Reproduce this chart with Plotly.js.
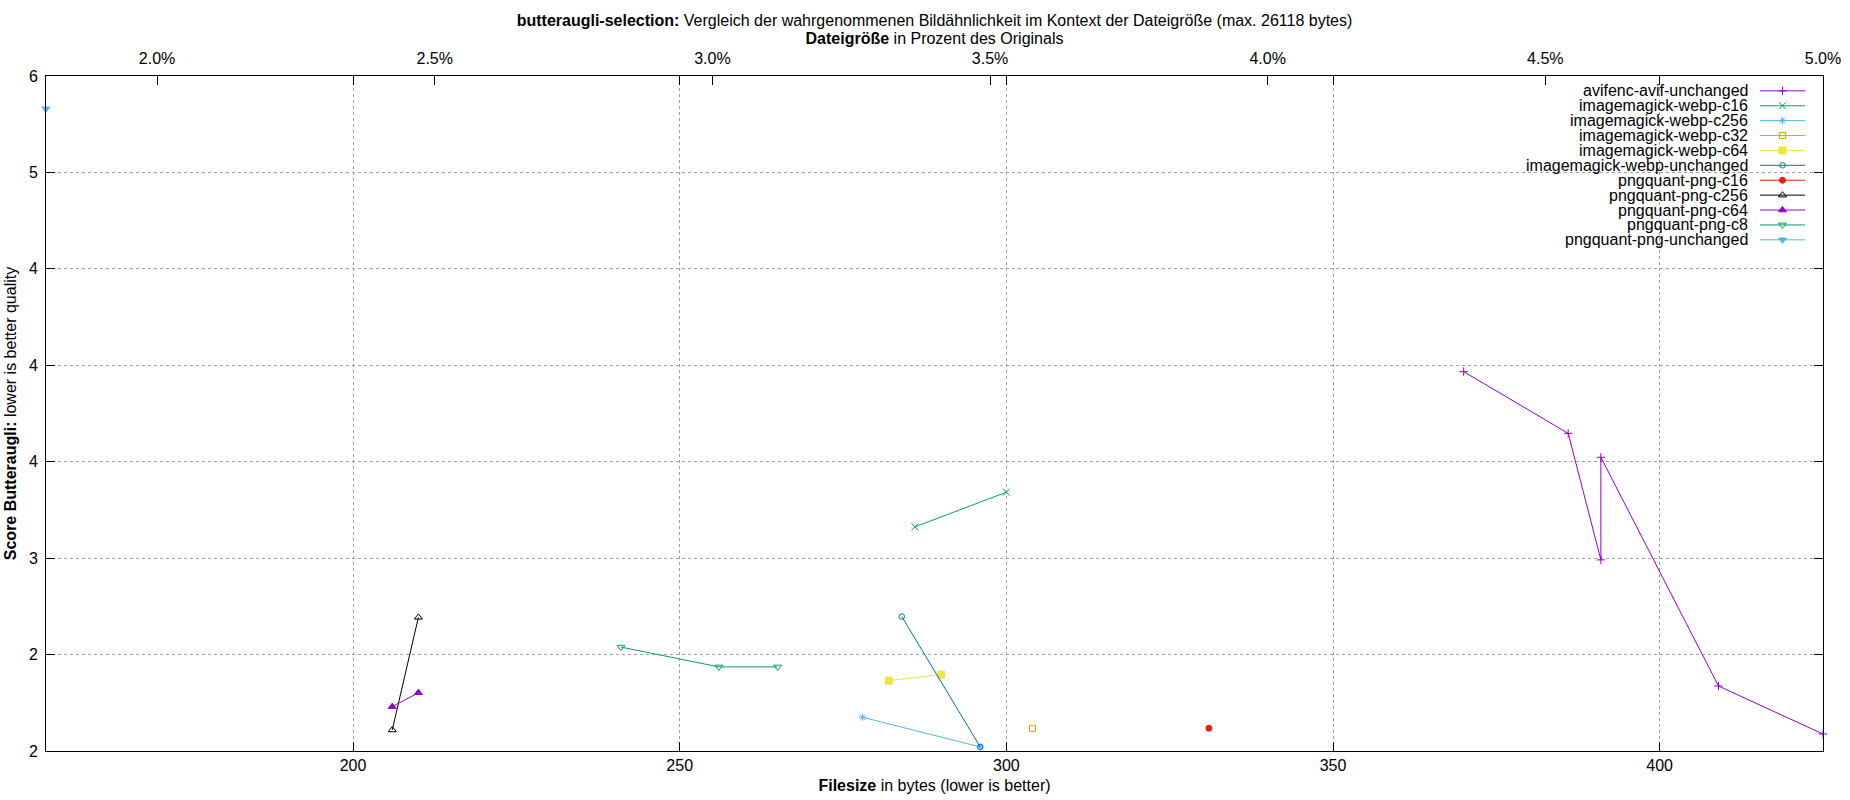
<!DOCTYPE html>
<html>
<head>
<meta charset="utf-8">
<title>butteraugli-selection</title>
<script src="https://cdn.plot.ly/plotly-3.0.1.min.js"></script>
<style>
    html, body { margin: 0; padding: 0; background: #fff; }
    #chart { width: 1850px; height: 800px; }
</style>
</head>
<body>
<div id="chart"></div>
<script>
const avifUnchangedX = [370, 386, 391, 391, 409, 425];
const avifUnchangedY = [3.967, 3.647, 2.991, 3.523, 2.337, 2.088];
const webpC16X = [286, 300];
const webpC16Y = [3.162, 3.342];
const webpC256X = [278, 296];
const webpC256Y = [2.175, 2.021];
const webpC32X = [304];
const webpC32Y = [2.118];
const webpC64X = [282, 290];
const webpC64Y = [2.365, 2.396];
const webpUnchangedX = [284, 296];
const webpUnchangedY = [2.697, 2.021];
const pngC16X = [331];
const pngC16Y = [2.118];
const pngC256X = [210, 206];
const pngC256Y = [2.693, 2.109];
const pngC64X = [206, 210];
const pngC64Y = [2.230, 2.302];
const pngC8X = [241, 256, 265];
const pngC8Y = [2.539, 2.436, 2.436];
const pngUnchangedX = [153];
const pngUnchangedY = [5.33];

const seriesNames = [
    'avifenc-avif-unchanged', 'imagemagick-webp-c16', 'imagemagick-webp-c256',
    'imagemagick-webp-c32', 'imagemagick-webp-c64', 'imagemagick-webp-unchanged',
    'pngquant-png-c16', 'pngquant-png-c256', 'pngquant-png-c64',
    'pngquant-png-c8', 'pngquant-png-unchanged'
];
const seriesX = [avifUnchangedX, webpC16X, webpC256X, webpC32X, webpC64X, webpUnchangedX,
    pngC16X, pngC256X, pngC64X, pngC8X, pngUnchangedX];
const seriesY = [avifUnchangedY, webpC16Y, webpC256Y, webpC32Y, webpC64Y, webpUnchangedY,
    pngC16Y, pngC256Y, pngC64Y, pngC8Y, pngUnchangedY];

// axis ticks
const xTickVals = [200, 250, 300, 350, 400];
const x2TickVals = [2.0, 2.5, 3.0, 3.5, 4.0, 4.5, 5.0];
const x2TickText = ['2.0%', '2.5%', '3.0%', '3.5%', '4.0%', '4.5%', '5.0%'];
const yTickVals = [2.0, 2.5, 3.0, 3.5, 4.0, 4.5, 5.0, 5.5];
const yTickText = ['2', '2', '3', '4', '4', '4', '5', '6'];   // gnuplot "%.0f" labels
const xRange = [153, 425];
const yRange = [2.0, 5.5];
const percentBase = 8500;   // bytes that map to 100% on the top axis

// gnuplot default line colours / point types
const colors = ['#9400d3', '#009e73', '#56b4e9', '#e69f00', '#f0e442', '#0072b2',
    '#e51e10', '#000000', '#9400d3', '#009e73', '#56b4e9'];
const symbols = ['cross-thin-open', 'x-thin-open', 'asterisk-open', 'square-open', 'square',
    'circle-open', 'circle', 'triangle-up-open', 'triangle-up', 'triangle-down-open', 'triangle-down'];
const symbolSizes = [6, 7, 6, 6, 7, 5.5, 6, 7, 7, 7, 7];

const FONT = 'Liberation Sans, Arial, sans-serif';
const GRID = '#a0a0a0';

// key geometry, in fractions of the plot area
const keyTextRight = 0.9589;
const keyLine = [0.9645, 0.9899];
const keyTop = 0.978;
const keyStep = 0.02207;

function markerFor(i) {
    return {
        symbol: symbols[i],
        size: symbolSizes[i],
        color: colors[i],
        line: { color: colors[i], width: 1 }
    };
}

const traces = [];
const annotations = [];

seriesNames.forEach((name, i) => {
    traces.push({
        type: 'scatter',
        mode: 'lines+markers',
        x: seriesX[i],
        y: seriesY[i],
        name: name,
        line: { color: colors[i], width: 1 },
        marker: markerFor(i),
        cliponaxis: false,
        showlegend: false,
        hovertemplate: '%{x} bytes, %{y:.3f}<extra>' + name + '</extra>'
    });
});

// empty trace so the top percent axis gets drawn
traces.push({
    type: 'scatter',
    mode: 'none',
    x: xRange.map(v => v / percentBase * 100),
    y: yRange,
    xaxis: 'x2',
    showlegend: false,
    hoverinfo: 'skip'
});

// gnuplot style key: label right aligned, sample to its right
seriesNames.forEach((name, i) => {
    const ky = keyTop - i * keyStep;
    traces.push({
        type: 'scatter',
        mode: 'lines',
        x: keyLine,
        y: [ky, ky],
        xaxis: 'x3',
        yaxis: 'y3',
        line: { color: colors[i], width: 1 },
        showlegend: false,
        hoverinfo: 'skip'
    });
    traces.push({
        type: 'scatter',
        mode: 'markers',
        x: [(keyLine[0] + keyLine[1]) / 2],
        y: [ky],
        xaxis: 'x3',
        yaxis: 'y3',
        marker: markerFor(i),
        showlegend: false,
        hoverinfo: 'skip'
    });
    annotations.push({
        xref: 'x3', yref: 'y3',
        x: keyTextRight, y: ky,
        xanchor: 'right', yanchor: 'middle',
        text: name,
        showarrow: false,
        font: { family: FONT, size: 16, color: '#000' }
    });
});

const layout = {
    width: 1850,
    height: 800,
    font: { family: FONT, size: 16, color: '#000' },
    paper_bgcolor: '#fff',
    plot_bgcolor: '#fff',
    margin: { l: 46, r: 27, t: 76, b: 49 },
    showlegend: false,
    title: {
        text: '<b>butteraugli-selection:</b> Vergleich der wahrgenommenen Bildähnlichkeit im Kontext der Dateigröße (max. 26118 bytes)',
        font: { family: FONT, size: 16, color: '#000' },
        x: 0.5, xref: 'paper', xanchor: 'center',
        y: 0.975, yref: 'container', yanchor: 'middle'
    },
    xaxis: {
        range: xRange,
        tickvals: xTickVals,
        ticks: 'inside', ticklen: 9, tickcolor: '#000',
        showline: true, linecolor: '#000', linewidth: 1, mirror: 'ticks',
        showgrid: true, gridcolor: GRID, griddash: 'dot', gridwidth: 1,
        zeroline: false,
        tickfont: { family: FONT, size: 16 },
        title: { text: '<b>Filesize</b> in bytes (lower is better)', font: { family: FONT, size: 16 }, standoff: 6 }
    },
    xaxis2: {
        overlaying: 'x', side: 'top', anchor: 'y',
        range: xRange.map(v => v / percentBase * 100),
        tickvals: x2TickVals, ticktext: x2TickText,
        ticks: 'inside', ticklen: 9, tickcolor: '#000',
        showline: false, showgrid: false, zeroline: false,
        ticklabelstandoff: 8,
        tickfont: { family: FONT, size: 16 },
        title: { text: '<b>Dateigröße</b> in Prozent des Originals', font: { family: FONT, size: 16 }, standoff: 1 }
    },
    yaxis: {
        range: yRange,
        tickvals: yTickVals, ticktext: yTickText,
        ticks: 'inside', ticklen: 9, tickcolor: '#000',
        showline: true, linecolor: '#000', linewidth: 1, mirror: 'ticks',
        showgrid: true, gridcolor: GRID, griddash: 'dot', gridwidth: 1,
        zeroline: false,
        ticklabelstandoff: 4,
        tickfont: { family: FONT, size: 16 },
        title: { text: '<b>Score Butteraugli:</b> lower is better quality', font: { family: FONT, size: 16 }, standoff: 8 }
    },
    xaxis3: { overlaying: 'x', anchor: 'y3', range: [0, 1], visible: false, fixedrange: true },
    yaxis3: { overlaying: 'y', anchor: 'x3', range: [0, 1], visible: false, fixedrange: true },
    shapes: [{
        // white key box hides the grid behind the labels
        type: 'rect', xref: 'paper', yref: 'paper', layer: 'between',
        x0: 0.8278, x1: 0.9927, y0: 0.7452, y1: 0.986,
        fillcolor: '#fff', line: { width: 0 }
    }],
    annotations: annotations
};

Plotly.newPlot('chart', traces, layout, { displayModeBar: false, staticPlot: true });
</script>
</body>
</html>
